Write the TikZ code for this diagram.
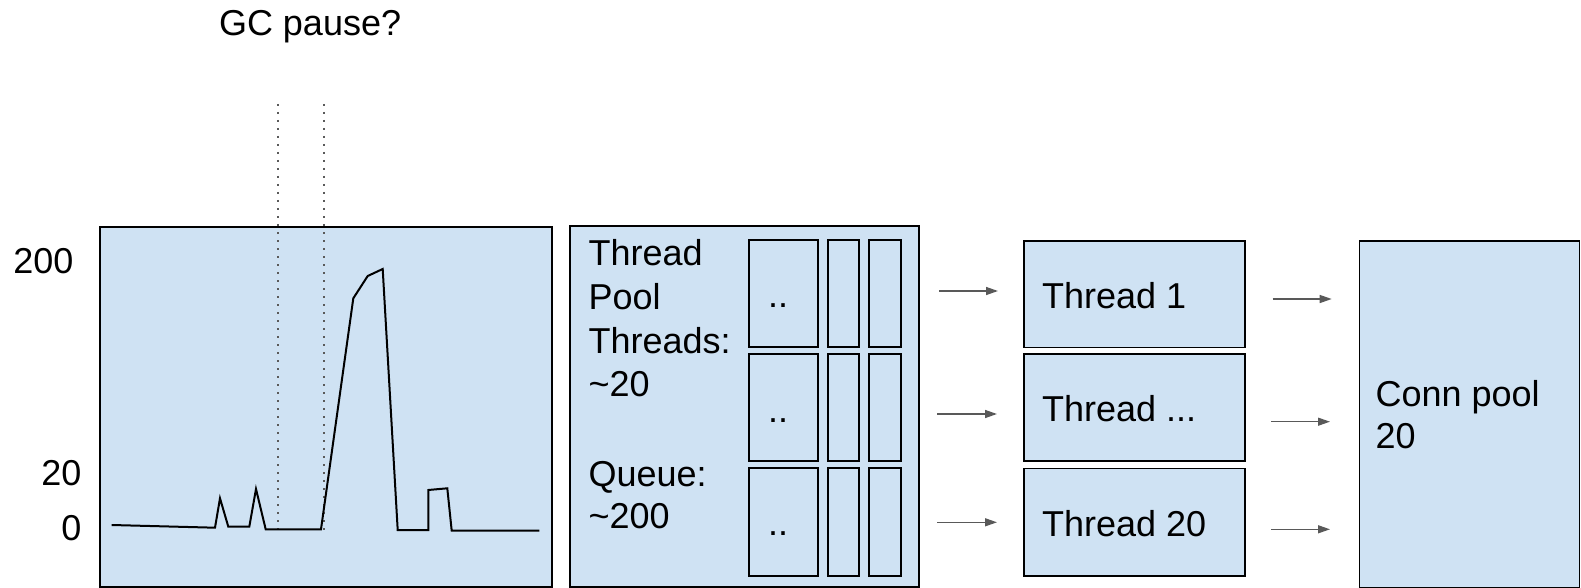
\documentclass[tikz,border=0pt]{standalone}
\usepackage{fontspec}
\setmainfont{Liberation Sans}
\usetikzlibrary{arrows.meta}
\definecolor{boxfill}{HTML}{CFE2F3}
\definecolor{arrowgray}{HTML}{595959}
\definecolor{dotgray}{HTML}{5A5A5A}
\tikzset{
  box/.style={draw=black, fill=boxfill, line width=1.6pt, inner sep=0pt, outer sep=0pt, anchor=north west},
  cell/.style={draw=black, fill=boxfill, line width=1.7pt, inner sep=0pt, outer sep=0pt, anchor=north west},
  txt/.style={inner sep=0pt, outer sep=0pt, anchor=base west, font=\fontsize{36}{43}\selectfont},
  txtr/.style={txt, anchor=base east},
  conn/.style={draw=arrowgray, line width=1.4pt, -{Triangle[length=12pt,width=8pt]}},
  pausemark/.style={draw=dotgray, line width=1.8pt, dash pattern=on 1.8pt off 6.2pt},
  curve/.style={draw=black, line width=2pt, line join=miter}
}
\begin{document}
\begin{tikzpicture}[x=1pt,y=-1pt]
\useasboundingbox (0,0) rectangle (1581,588);

% chart box
\node[box, minimum width=451.7pt, minimum height=360pt] (chart) at (100,226.7) {};
% thread pool box
\node[box, minimum width=349pt, minimum height=361pt] (pool) at (570,225.7) {};
% queue cells
\foreach \r/\y/\h in {1/240/107.3, 2/354/107, 3/468.3/107.4}{
  \node[cell, minimum width=68.4pt, minimum height=\h pt] (q\r a) at (749.3,\y) {};
  \node[cell, minimum width=31.3pt, minimum height=\h pt] (q\r b) at (827.7,\y) {};
  \node[cell, minimum width=31.4pt, minimum height=\h pt] (q\r c) at (869.3,\y) {};
}
\node[txt, anchor=base] (d1) at (778,307.5) {..};
\node[txt, anchor=base] (d2) at (778,422) {..};
\node[txt, anchor=base] (d3) at (778,535.5) {..};

% thread boxes
\node[box, minimum width=221pt, minimum height=106.6pt] (t1) at (1024,240.7) {};
\node[box, minimum width=221pt, minimum height=106.7pt] (t2) at (1024,354) {};
\node[box, minimum width=221pt, minimum height=107.4pt] (t3) at (1024,468.3) {};
% conn pool
\node[box, minimum width=220pt, minimum height=346.6pt] (cp) at (1359.3,240.7) {};

% texts
\node[txt] (gc) at (219,36) {GC pause?};
\node[txtr] (y200) at (73.5,273.3) {200};
\node[txtr] (y20) at (81.5,485) {20};
\node[txtr] (y0) at (81.5,540) {0};

\node[txt] (p1) at (588.5,265) {Thread};
\node[txt] (p2) at (588.5,309.3) {Pool};
\node[txt] (p3) at (588.5,353.3) {Threads:};
\node[txt] (p4) at (588.5,396.7) {\char"007E 20};
\node[txt] (p5) at (588.5,486) {Queue:};
\node[txt] (p6) at (588.5,528.3) {\char"007E 200};

\node[txt] (tt1) at (1042,308.3) {Thread 1};
\node[txt] (tt2) at (1042,421.7) {Thread ...};
\node[txt] (tt3) at (1042,536) {Thread 20};

\node[txt] (c1) at (1375.5,406) {Conn pool};
\node[txt] (c2) at (1375.5,448.3) {20};

% GC pause markers
\coordinate (m1t) at (277.7,104);
\coordinate (m1b) at (277.7,530);
\coordinate (m2t) at (323.7,104);
\coordinate (m2b) at (323.7,530);
\draw[pausemark] (m1t) -- (m1b);
\draw[pausemark] (m2t) -- (m2b);

% latency curve
\draw[curve] (111.7,525) -- (215,527.7) -- (220,498.3) -- (228.3,526.7) -- (249.3,526.7)
  -- (256,489) -- (265.7,529.3) -- (321,529.3) -- (353.3,298.3) -- (367.7,276)
  -- (382.7,269) -- (397.7,530) -- (428.3,530) -- (428.3,490) -- (447.3,488.3)
  -- (451.7,530.7) -- (539.3,530.7);

% arrows
\coordinate (la1) at (939,291);   \coordinate (lb1) at (998,291);
\coordinate (la2) at (937.3,414); \coordinate (lb2) at (997,414);
\coordinate (la3) at (937,522.3); \coordinate (lb3) at (997,522.3);
\coordinate (ra1) at (1272.7,299);  \coordinate (rb1) at (1331.7,299);
\coordinate (ra2) at (1271,421.7);  \coordinate (rb2) at (1330,421.7);
\coordinate (ra3) at (1271,529.3);  \coordinate (rb3) at (1330,529.3);
\draw[conn] (la1) -- (lb1);
\draw[conn] (la2) -- (lb2);
\draw[conn] (la3) -- (lb3);
\draw[conn] (ra1) -- (rb1);
\draw[conn] (ra2) -- (rb2);
\draw[conn] (ra3) -- (rb3);
\end{tikzpicture}
\end{document}
